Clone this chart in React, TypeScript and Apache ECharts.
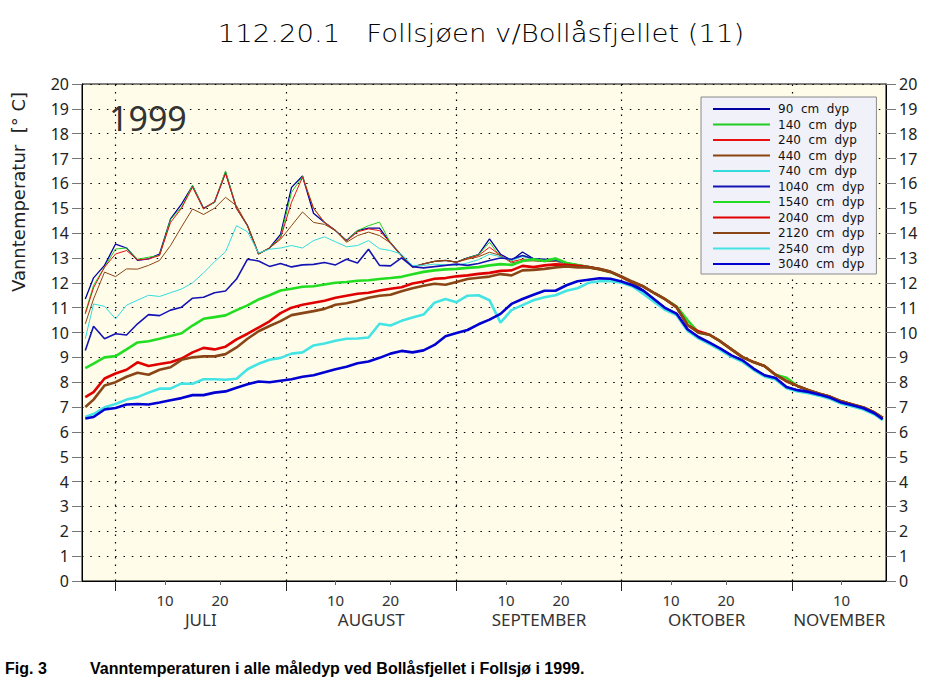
import React, { useEffect, useRef } from 'react';
import * as echarts from 'echarts';

// x = days since 1 July 1999 (0 = 1 July)
const DAYS = [-5.5, -4, -2, 0, 2, 4, 6, 8, 10, 12,
  14, 16, 18, 20, 22, 24, 26, 28, 30, 32,
  34, 36, 38, 40, 42, 44, 46, 48, 50, 52,
  54, 56, 58, 60, 62, 64, 66, 68, 70, 72,
  74, 76, 78, 80, 82, 84, 86, 88, 90, 92,
  94, 96, 98, 100, 102, 104, 106, 108, 110, 112,
  114, 116, 118, 120, 122, 124, 126, 128, 130, 132,
  134, 136, 138, 139.5];

const T90 = [11.35, 12.2, 12.7, 13.56, 13.4, 12.9, 12.96, 13.16, 14.57, 15.17,
  15.9, 15.0, 15.24, 16.45, 15.0, 14.3, 13.16, 13.4, 13.95, 15.84,
  16.3, 14.8, 14.43, 14.1, 13.7, 14.1, 14.2, 14.2, 13.6, 13.1,
  12.63, 12.76, 12.86, 12.9, 12.83, 13.0, 13.13, 13.77, 13.15, 12.9,
  13.24, 12.97, 12.9, 12.95, 12.77, 12.7, 12.63, 12.54, 12.43, 12.23,
  12.0, 11.68, 11.33, 10.98, 10.76, 10.13, 9.82, 9.59, 9.35, 9.08,
  8.88, 8.55, 8.28, 8.17, 7.81, 7.68, 7.61, 7.5, 7.37, 7.18,
  7.07, 6.95, 6.75, 6.51];

const T140 = [10.8, 11.9, 12.63, 13.36, 13.4, 12.95, 13.03, 13.1, 14.55, 15.04,
  15.92, 14.97, 15.24, 16.5, 15.0, 14.3, 13.16, 13.4, 13.85, 15.64,
  16.28, 15.0, 14.43, 14.1, 13.7, 14.1, 14.3, 14.44, 13.6, 13.1,
  12.63, 12.76, 12.86, 12.9, 12.83, 13.0, 13.13, 13.63, 13.05, 12.9,
  13.1, 12.97, 12.9, 13.0, 12.77, 12.7, 12.63, 12.54, 12.43, 12.23,
  12.0, 11.85, 11.58, 11.33, 11.02, 10.3, 9.99, 9.91, 9.64, 9.32,
  9.01, 8.81, 8.65, 8.3, 8.04, 7.85, 7.68, 7.54, 7.41, 7.23,
  7.1, 6.98, 6.78, 6.57];

const T240 = [10.75, 11.8, 12.63, 13.16, 13.3, 12.92, 12.96, 13.1, 14.43, 15.0,
  15.85, 14.97, 15.27, 16.4, 15.0, 14.3, 13.16, 13.4, 13.8, 15.24,
  16.25, 15.0, 14.43, 14.1, 13.68, 14.05, 14.17, 14.1, 13.6, 13.1,
  12.63, 12.76, 12.86, 12.9, 12.83, 12.98, 13.1, 13.43, 13.1, 12.85,
  12.95, 12.93, 12.88, 12.9, 12.77, 12.7, 12.63, 12.54, 12.43, 12.23,
  12.0, 11.85, 11.58, 11.33, 11.02, 10.3, 9.99, 9.91, 9.64, 9.32,
  9.01, 8.81, 8.65, 8.3, 8.04, 7.85, 7.68, 7.54, 7.41, 7.23,
  7.1, 6.98, 6.78, 6.57];

const T440 = [10.35, 11.35, 12.43, 12.25, 12.56, 12.55, 12.7, 12.9, 13.5, 14.25,
  14.97, 14.75, 15.0, 15.44, 15.1, 14.3, 13.16, 13.4, 13.75, 14.3,
  14.85, 14.43, 14.35, 14.1, 13.63, 13.9, 14.04, 13.9, 13.6, 13.1,
  12.63, 12.76, 12.86, 12.9, 12.83, 12.95, 13.05, 13.23, 13.1, 12.8,
  12.88, 12.88, 12.85, 12.86, 12.77, 12.7, 12.63, 12.54, 12.43, 12.23,
  12.0, 11.85, 11.58, 11.33, 11.02, 10.3, 9.99, 9.91, 9.64, 9.32,
  9.01, 8.81, 8.65, 8.3, 8.04, 7.85, 7.68, 7.54, 7.41, 7.23,
  7.1, 6.98, 6.78, 6.57];

const T740 = [9.75, 11.15, 11.05, 10.55, 11.1, 11.3, 11.5, 11.45, 11.6, 11.75,
  12.0, 12.4, 12.85, 13.25, 14.3, 14.05, 13.2, 13.35, 13.4, 13.5,
  13.4, 13.7, 13.85, 13.65, 13.45, 13.5, 13.7, 13.37, 13.3, 13.15,
  12.7, 12.7, 12.75, 12.72, 12.7, 12.8, 12.93, 13.15, 13.05, 12.9,
  13.05, 12.95, 12.88, 12.9, 12.77, 12.7, 12.63, 12.54, 12.43, 12.23,
  12.0, 11.6, 11.22, 10.98, 10.76, 10.13, 9.82, 9.59, 9.35, 9.08,
  8.88, 8.55, 8.28, 8.17, 7.81, 7.68, 7.61, 7.5, 7.37, 7.18,
  7.07, 6.95, 6.75, 6.51];

const T1040 = [9.28, 10.25, 9.75, 9.95, 9.9, 10.35, 10.72, 10.68, 10.9, 11.02,
  11.38, 11.42, 11.6, 11.67, 12.15, 12.95, 12.88, 12.66, 12.78, 12.64,
  12.72, 12.74, 12.82, 12.72, 12.95, 12.8, 13.35, 12.7, 12.68, 13.0,
  12.65, 12.6, 12.65, 12.7, 12.75, 12.7, 12.78, 12.9, 13.0, 12.95,
  13.1, 12.97, 12.95, 12.92, 12.8, 12.72, 12.65, 12.55, 12.45, 12.25,
  12.0, 11.68, 11.33, 10.98, 10.76, 10.13, 9.82, 9.59, 9.35, 9.08,
  8.88, 8.55, 8.28, 8.17, 7.81, 7.68, 7.61, 7.5, 7.37, 7.18,
  7.07, 6.95, 6.75, 6.51];

const T1540 = [8.57, 8.75, 9.0, 9.05, 9.32, 9.6, 9.65, 9.75, 9.86, 9.97,
  10.28, 10.55, 10.62, 10.69, 10.9, 11.09, 11.33, 11.5, 11.69, 11.76,
  11.84, 11.86, 11.93, 12.0, 12.03, 12.08, 12.1, 12.15, 12.19, 12.24,
  12.34, 12.44, 12.5, 12.54, 12.56, 12.6, 12.63, 12.7, 12.75, 12.72,
  12.88, 12.95, 12.88, 12.98, 12.8, 12.72, 12.63, 12.54, 12.43, 12.23,
  12.0, 11.85, 11.58, 11.33, 11.05, 10.5, 10.0, 9.91, 9.64, 9.32,
  9.01, 8.81, 8.65, 8.3, 8.18, 7.85, 7.68, 7.54, 7.41, 7.23,
  7.1, 6.98, 6.78, 6.57];

const T2040 = [7.4, 7.6, 8.15, 8.35, 8.5, 8.8, 8.65, 8.73, 8.8, 8.95,
  9.2, 9.38, 9.32, 9.43, 9.72, 9.95, 10.2, 10.45, 10.78, 11.0,
  11.12, 11.2, 11.28, 11.4, 11.48, 11.56, 11.6, 11.69, 11.76, 11.82,
  11.97, 12.05, 12.16, 12.19, 12.26, 12.3, 12.36, 12.4, 12.48, 12.5,
  12.68, 12.63, 12.7, 12.74, 12.72, 12.68, 12.63, 12.55, 12.44, 12.24,
  12.02, 11.85, 11.58, 11.33, 11.02, 10.3, 10.05, 9.91, 9.64, 9.32,
  9.01, 8.81, 8.65, 8.3, 8.04, 7.85, 7.68, 7.54, 7.41, 7.23,
  7.1, 6.98, 6.78, 6.57];

const T2120 = [7.0, 7.3, 7.87, 8.0, 8.22, 8.38, 8.3, 8.5, 8.6, 8.9,
  9.0, 9.04, 9.04, 9.13, 9.4, 9.75, 10.05, 10.26, 10.46, 10.7,
  10.78, 10.86, 10.95, 11.12, 11.18, 11.28, 11.4, 11.48, 11.52, 11.66,
  11.78, 11.88, 11.96, 11.92, 12.03, 12.15, 12.2, 12.25, 12.35, 12.3,
  12.5, 12.52, 12.56, 12.62, 12.66, 12.62, 12.62, 12.56, 12.45, 12.26,
  12.05, 11.85, 11.58, 11.33, 11.02, 10.3, 9.99, 9.91, 9.64, 9.32,
  9.01, 8.81, 8.65, 8.3, 8.04, 7.85, 7.68, 7.54, 7.41, 7.23,
  7.1, 6.98, 6.78, 6.57];

const T2540 = [6.6, 6.72, 6.99, 7.12, 7.3, 7.4, 7.58, 7.74, 7.74, 7.95,
  7.94, 8.12, 8.12, 8.1, 8.14, 8.52, 8.74, 8.9, 8.98, 9.15,
  9.2, 9.48, 9.56, 9.67, 9.75, 9.76, 9.8, 10.35, 10.28, 10.47,
  10.6, 10.72, 11.2, 11.35, 11.22, 11.48, 11.5, 11.3, 10.4, 10.9,
  11.1, 11.3, 11.42, 11.5, 11.68, 11.78, 12.0, 12.06, 12.06, 12.0,
  11.85, 11.55, 11.22, 10.9, 10.7, 10.07, 9.76, 9.53, 9.29, 9.02,
  8.82, 8.5, 8.23, 8.11, 7.76, 7.63, 7.56, 7.45, 7.32, 7.13,
  7.02, 6.9, 6.7, 6.47];

const T3040 = [6.54, 6.6, 6.9, 6.96, 7.1, 7.12, 7.1, 7.18, 7.27, 7.36,
  7.48, 7.48, 7.58, 7.63, 7.78, 7.92, 8.03, 8.0, 8.06, 8.12,
  8.22, 8.28, 8.4, 8.52, 8.62, 8.76, 8.83, 8.98, 9.15, 9.26,
  9.2, 9.28, 9.5, 9.85, 9.98, 10.1, 10.33, 10.52, 10.75, 11.15,
  11.35, 11.52, 11.68, 11.68, 11.9, 12.06, 12.12, 12.18, 12.16, 12.05,
  11.9, 11.68, 11.33, 10.98, 10.76, 10.13, 9.82, 9.59, 9.35, 9.08,
  8.88, 8.55, 8.28, 8.17, 7.81, 7.68, 7.61, 7.5, 7.37, 7.18,
  7.07, 6.95, 6.75, 6.51];

const SERIES_NAMES = ['90 cm dyp', '140 cm dyp', '240 cm dyp', '440 cm dyp', '740 cm dyp',
  '1040 cm dyp', '1540 cm dyp', '2040 cm dyp', '2120 cm dyp', '2540 cm dyp', '3040 cm dyp'];
const SERIES_VALUES = [T90, T140, T240, T440, T740, T1040, T1540, T2040, T2120, T2540, T3040];

const MONTH_STARTS = [0, 31, 62, 92, 123];
const DAY_TICKS = [9, 19, 40, 50, 71, 81, 101, 111, 132];
const DAY_TICK_LABELS = ['10', '20', '10', '20', '10', '20', '10', '20', '10'];
const MONTH_CENTERS = [15.5, 46.5, 77, 107.5, 131.6];
const MONTH_NAMES = ['JULI', 'AUGUST', 'SEPTEMBER', 'OKTOBER', 'NOVEMBER'];

const TITLE = '112.20.1   Follsjøen v/Bollåsfjellet (11)';
const YEAR = '1999';
const Y_NAME = 'Vanntemperatur  [° C]';
const FIG_NO = 'Fig. 3';
const CAPTION = 'Vanntemperaturen i alle måledyp ved Bollåsfjellet i Follsjø i 1999.';

const STYLES = [
  { color: '#0000a0', width: 1.3 },
  { color: '#22cc22', width: 1 },
  { color: '#e81010', width: 1 },
  { color: '#8b4513', width: 1 },
  { color: '#33dcdc', width: 1 },
  { color: '#1414b4', width: 1.6 },
  { color: '#22dd22', width: 2.6 },
  { color: '#e00000', width: 2.6 },
  { color: '#8a4516', width: 2.6 },
  { color: '#44e4e4', width: 2.6 },
  { color: '#0000d0', width: 2.6 },
];

const pick = (vals: number[], labels: string[], v: number) => {
  for (let i = 0; i < vals.length; i++) if (Math.abs(vals[i] - v) < 0.05) return labels[i];
  return '';
};

export default function App() {
  const ref = useRef<HTMLDivElement>(null);
  useEffect(() => {
    if (!ref.current) return;
    const chart = echarts.init(ref.current, undefined, { renderer: 'svg' });
    const numFont = 'Noto Sans';
    const yAxisBase = {
      type: 'value',
      min: 0,
      max: 20,
      interval: 1,
      axisLine: { show: true, onZero: false, lineStyle: { color: '#000', width: 1 } },
      axisTick: { show: true, length: 10, lineStyle: { color: '#777' } },
      axisLabel: { fontSize: 16, color: '#222', margin: 13, fontFamily: numFont },
    };
    const series: any[] = SERIES_NAMES.map((name, i) => ({
      name,
      type: 'line',
      data: DAYS.map((d, j) => [d, SERIES_VALUES[i][j]]),
      symbol: 'none',
      showSymbol: false,
      lineStyle: { color: STYLES[i].color, width: STYLES[i].width },
      itemStyle: { color: STYLES[i].color },
      emphasis: { disabled: true },
      z: 3,
    }));
    series[0].markLine = {
      silent: true,
      symbol: ['none', 'none'],
      label: { show: false },
      emphasis: { disabled: true },
      lineStyle: { type: [1.5, 6], color: '#000', width: 1.2 },
      data: MONTH_STARTS.map((v) => ({ xAxis: v })),
      z: 1,
    };
    chart.setOption({
      animation: false,
      backgroundColor: '#ffffff',
      grid: {
        left: 82,
        right: 46,
        top: 84,
        bottom: 109,
        show: true,
        backgroundColor: '#fffdea',
        borderColor: '#000',
        borderWidth: 1,
      },
      xAxis: [
        {
          type: 'value',
          min: -6.1,
          max: 140.1,
          axisLine: { show: true, onZero: false, lineStyle: { color: '#000' } },
          axisTick: { show: true, customValues: MONTH_STARTS, length: 10, lineStyle: { color: '#222' } },
          axisLabel: {
            customValues: DAY_TICKS,
            margin: 11,
            fontSize: 15,
            color: '#333',
            fontFamily: numFont,
            formatter: (v: number) => pick(DAY_TICKS, DAY_TICK_LABELS, v),
          },
          splitLine: { show: false },
        },
        {
          type: 'value',
          position: 'bottom',
          min: -6.1,
          max: 140.1,
          axisLine: { show: false, onZero: false },
          axisTick: { show: true, customValues: DAY_TICKS, length: 4, lineStyle: { color: '#666' } },
          axisLabel: {
            customValues: MONTH_CENTERS,
            margin: 30,
            fontSize: 17,
            color: '#333',
            fontFamily: numFont,
            formatter: (v: number) => pick(MONTH_CENTERS, MONTH_NAMES, v),
          },
          splitLine: { show: false },
        },
      ],
      yAxis: [
        {
          ...yAxisBase,
          position: 'left',
          splitLine: { show: true, lineStyle: { type: [1.5, 6.8], color: '#000', width: 1.2 } },
        },
        {
          ...yAxisBase,
          position: 'right',
          splitLine: { show: false },
        },
      ],
      legend: {
        left: 701,
        top: 97,
        orient: 'vertical',
        itemWidth: 57,
        itemHeight: 14,
        itemGap: 3.5,
        padding: [6, 12, 4, 11],
        backgroundColor: '#f1f1f9',
        borderColor: '#8a8a8a',
        borderWidth: 1,
        selectedMode: false,
        itemStyle: { opacity: 0 },
        textStyle: { fontSize: 12, color: '#111', fontFamily: 'DejaVu Sans', padding: [0, 0, 0, 3] },
        formatter: (name: string) => name.replace(/ /g, '  '),
        data: SERIES_NAMES,
      },
      graphic: [
        {
          type: 'text',
          x: 481,
          y: 33,
          scaleX: 1.1,
          style: {
            text: TITLE,
            font: '200 25px "DejaVu Sans"',
            fill: '#000',
            textAlign: 'center',
            textVerticalAlign: 'middle',
          },
        },
        {
          type: 'text',
          x: 109,
          y: 118,
          z: 10,
          style: {
            text: YEAR,
            font: '34px "Noto Sans"',
            fill: '#333',
            textAlign: 'left',
            textVerticalAlign: 'middle',
          },
        },
        {
          type: 'text',
          x: 18,
          y: 192,
          rotation: Math.PI / 2,
          style: {
            text: Y_NAME,
            font: '18px "DejaVu Sans"',
            fill: '#222',
            textAlign: 'center',
            textVerticalAlign: 'middle',
          },
        },
        {
          type: 'text',
          x: 5,
          y: 668,
          style: {
            text: FIG_NO,
            font: 'bold 16px "Liberation Sans"',
            fill: '#000',
            textAlign: 'left',
            textVerticalAlign: 'middle',
          },
        },
        {
          type: 'text',
          x: 90,
          y: 668,
          style: {
            text: CAPTION,
            font: 'bold 16px "Liberation Sans"',
            fill: '#000',
            textAlign: 'left',
            textVerticalAlign: 'middle',
          },
        },
      ],
      series,
    });
    return () => chart.dispose();
  }, []);
  return (
    <div
      ref={ref}
      style={{ position: 'fixed', left: 0, top: 0, width: 932, height: 690, background: '#fff' }}
    />
  );
}
